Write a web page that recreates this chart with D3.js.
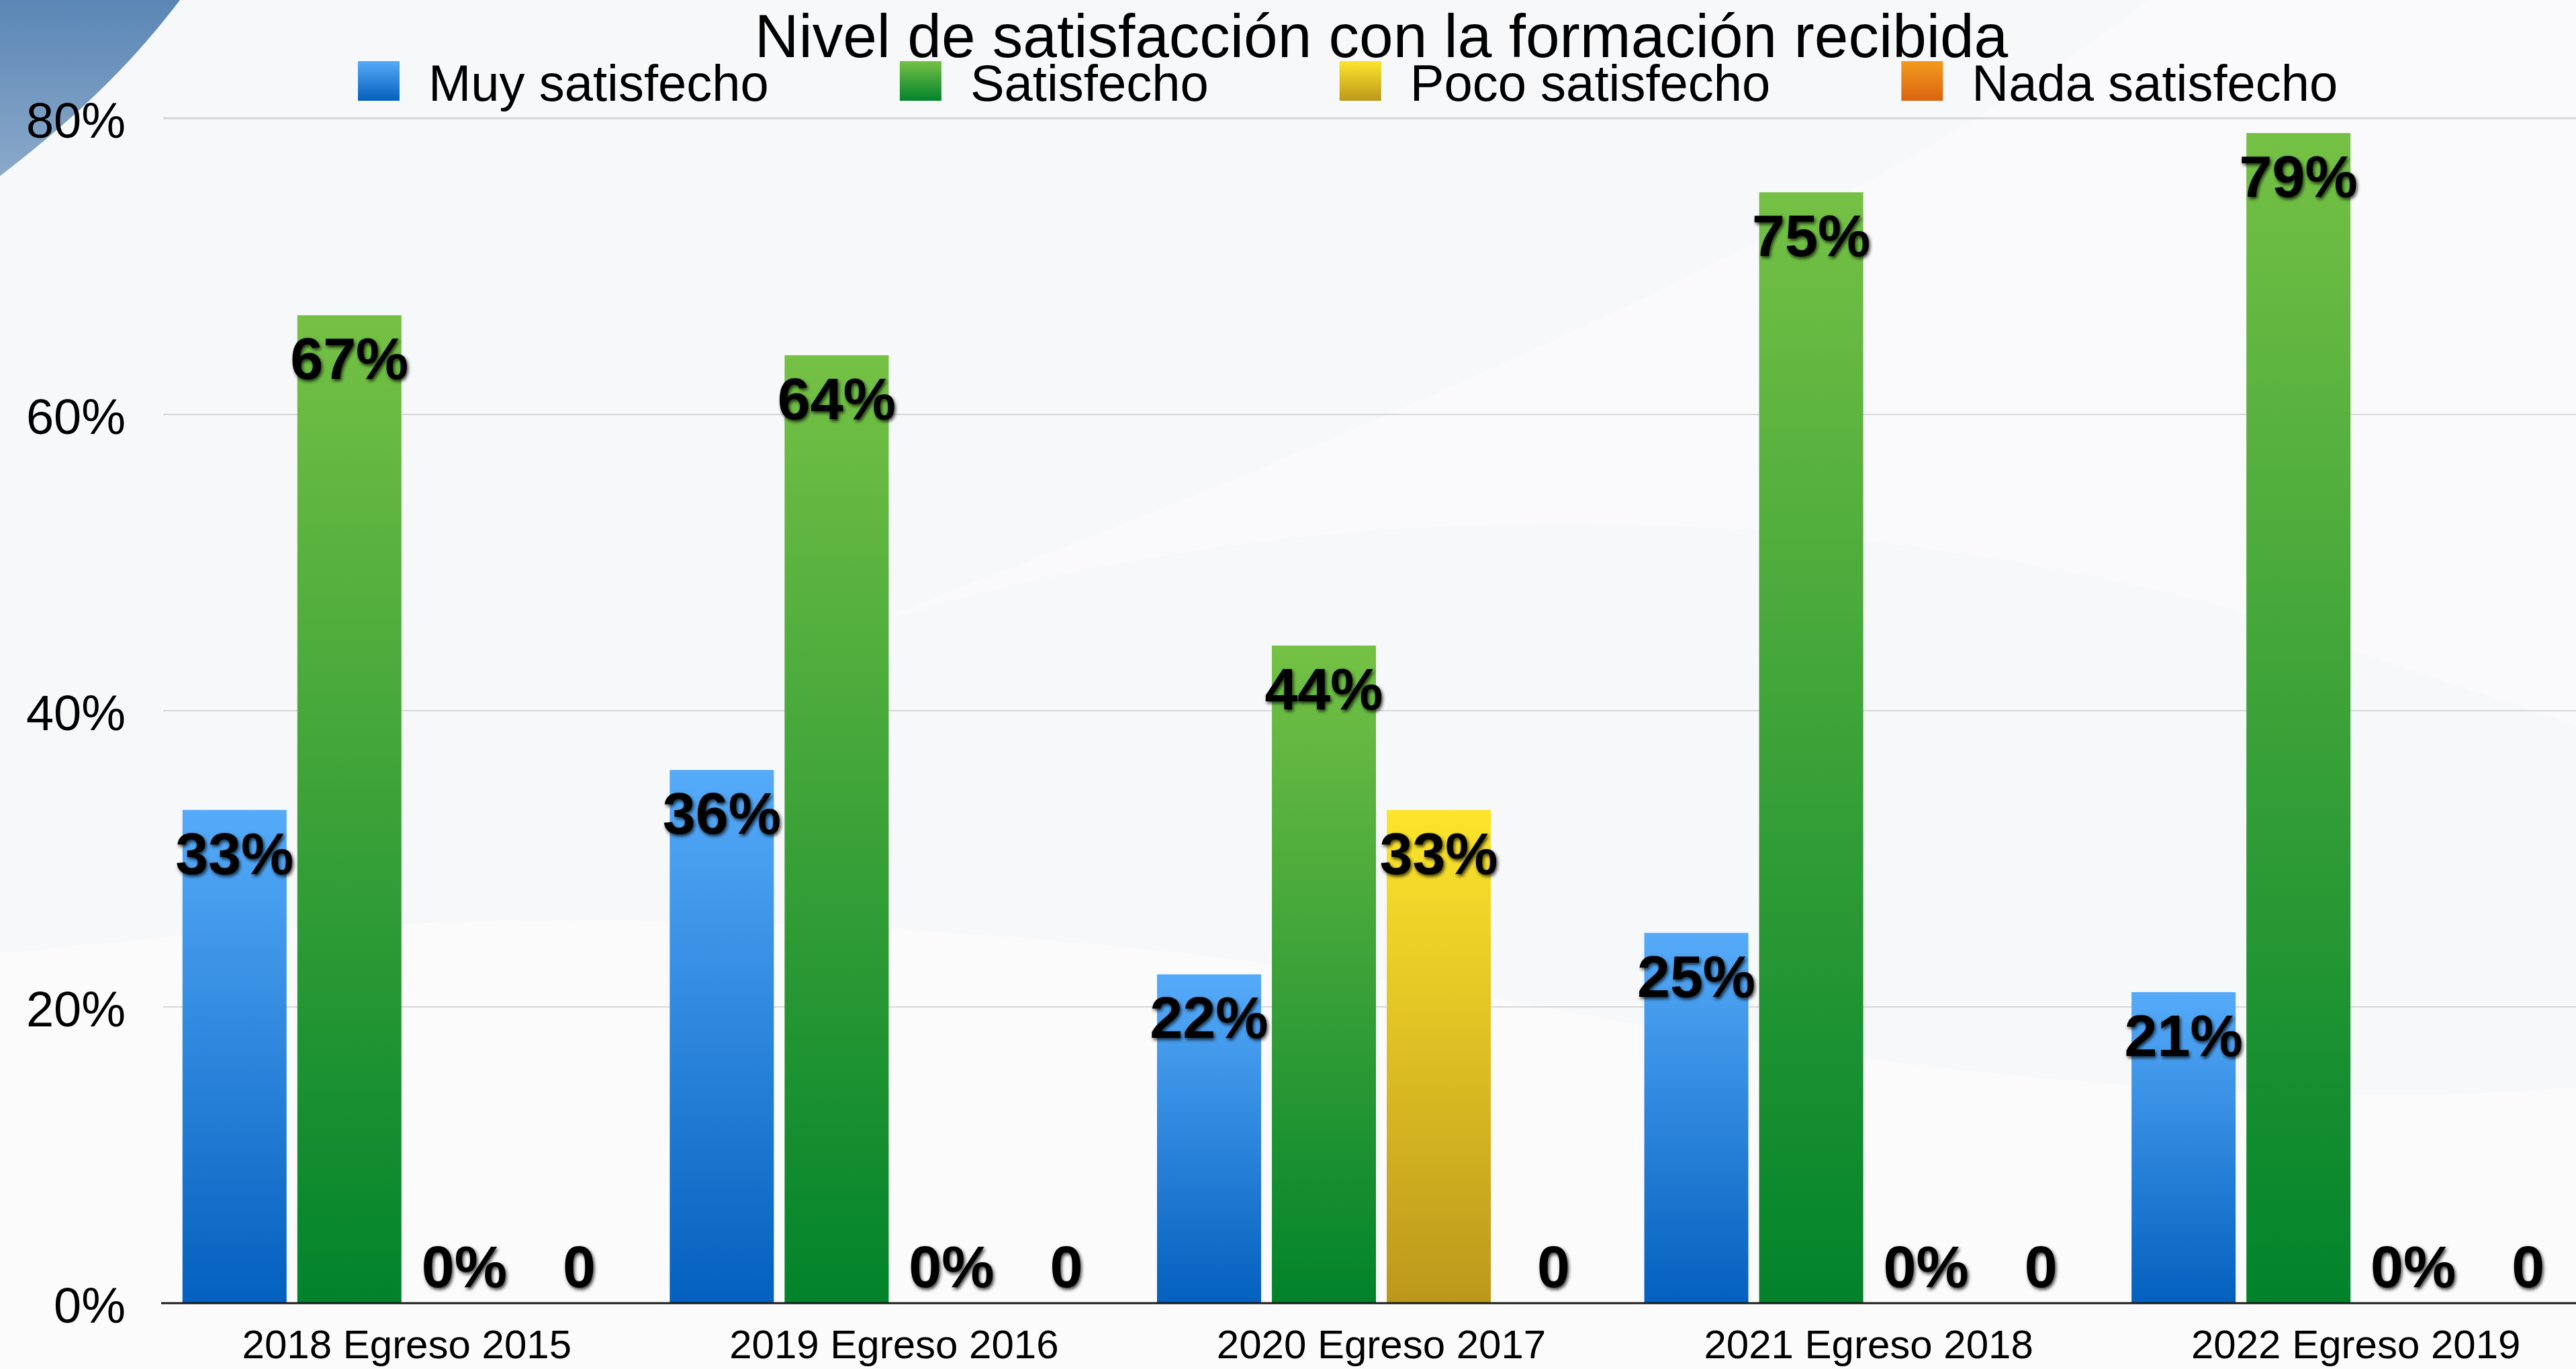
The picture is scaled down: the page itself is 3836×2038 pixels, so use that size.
<!DOCTYPE html>
<html>
<head>
<meta charset="utf-8">
<script src="https://cdn.jsdelivr.net/npm/d3@7"></script>
<style>
  body { margin: 0; background: #f7f8fa; }
  svg { display: block; font-family: "Liberation Sans", Arial, sans-serif; }
</style>
</head>
<body>
<div id="chart"></div>
<script>
// data
var categories = ["2018 Egreso 2015", "2019 Egreso 2016", "2020 Egreso 2017", "2021 Egreso 2018", "2022 Egreso 2019"];
var seriesNames = ["Muy satisfecho", "Satisfecho", "Poco satisfecho", "Nada satisfecho"];
var muySatisfecho = [33.3, 36, 22.2, 25, 21];
var satisfecho = [66.7, 64, 44.4, 75, 79];
var pocoSatisfecho = [0, 0, 33.3, 0, 0];
var nadaSatisfecho = [0, 0, 0, 0, 0];
var yTicks = [0, 20, 40, 60, 80];

var seriesValues = [muySatisfecho, satisfecho, pocoSatisfecho, nadaSatisfecho];
// gradient stops (top, bottom) per series
var seriesColors = [
  ["#56abf9", "#0460be"],
  ["#75c145", "#01832b"],
  ["#fce52b", "#bc981b"],
  ["#f39b1e", "#db6410"]
];

var W = 3836, H = 2038;
var margin = {top: 176, left: 243, bottom: 98};
var plotRight = 3871; // last group runs past the picture edge

var svg = d3.select("#chart").append("svg")
  .attr("width", W)
  .attr("height", H);

var defs = svg.append("defs");
seriesColors.forEach(function(c, i) {
  var g = defs.append("linearGradient")
    .attr("id", "grad" + i)
    .attr("x1", 0).attr("y1", 0).attr("x2", 0).attr("y2", 1);
  g.append("stop").attr("offset", "0%").attr("stop-color", c[0]);
  g.append("stop").attr("offset", "100%").attr("stop-color", c[1]);
});
var cg = defs.append("linearGradient").attr("id", "cornerGrad")
  .attr("x1", 0).attr("y1", 0).attr("x2", 0).attr("y2", 1);
cg.append("stop").attr("offset", "0%").attr("stop-color", "#5a86b5");
cg.append("stop").attr("offset", "100%").attr("stop-color", "#8ba9c9");

var shadow = defs.append("filter").attr("id", "shadow")
  .attr("x", "-20%").attr("y", "-20%").attr("width", "140%").attr("height", "140%");
shadow.append("feDropShadow")
  .attr("dx", 2).attr("dy", 3).attr("stdDeviation", 2.5)
  .attr("flood-color", "#000").attr("flood-opacity", 0.75);

// background, faint swooshes
svg.append("rect").attr("width", W).attr("height", H).attr("fill", "#f7f8fa");
svg.append("path")
  .attr("d", "M0,1420 C700,1340 1500,1350 2300,1500 C2900,1610 3400,1650 3836,1620 L3836,2038 L0,2038 Z")
  .attr("fill", "#fbfbfc");
svg.append("path")
  .attr("d", "M1100,1000 C1700,760 2500,700 3300,900 L3836,1080 L3836,0 L3200,0 C2700,380 1900,700 1100,1000 Z")
  .attr("fill", "#ffffff").attr("opacity", 0.35);
svg.append("path")
  .attr("d", "M0,0 L268,0 C200,90 120,170 0,262 Z")
  .attr("fill", "url(#cornerGrad)");

// scales
var x0 = d3.scaleBand()
  .domain(categories)
  .range([margin.left, plotRight])
  .padding(0);

var x1 = d3.scaleBand()
  .domain(seriesNames)
  .range([0, x0.bandwidth()])
  .paddingInner(0.0936)
  .paddingOuter(0.168);

var y = d3.scaleLinear()
  .domain([0, 80])
  .range([H - 98, margin.top]);

// grid lines
svg.append("g")
  .selectAll("line")
  .data(yTicks.filter(function(d) { return d > 0; }))
  .enter().append("line")
    .attr("x1", margin.left)
    .attr("x2", W)
    .attr("y1", function(d) { return y(d); })
    .attr("y2", function(d) { return y(d); })
    .attr("stroke", function(d) { return d === 80 ? "#d6d6d6" : "#cdcdcd"; })
    .attr("stroke-width", function(d) { return d === 80 ? 3 : 1.5; });

// y axis labels
var yAxis = svg.append("g")
  .attr("transform", "translate(" + margin.left + ",0)")
  .call(d3.axisLeft(y).tickValues(yTicks).tickSize(0).tickPadding(56)
    .tickFormat(function(d) { return d + "%"; }));
yAxis.select(".domain").remove();
yAxis.selectAll("text")
  .attr("font-size", 74)
  .attr("font-family", "Liberation Sans, Arial, sans-serif")
  .attr("fill", "#000")
  .attr("dy", "0.38em");

// bars
var groups = svg.append("g")
  .selectAll("g")
  .data(categories)
  .enter().append("g")
    .attr("transform", function(d) { return "translate(" + x0(d) + ",0)"; });

groups.selectAll("rect")
  .data(function(d, ci) {
    return seriesNames.map(function(s, si) { return {series: s, si: si, value: seriesValues[si][ci]}; });
  })
  .enter().append("rect")
    .attr("x", function(d) { return x1(d.series); })
    .attr("width", x1.bandwidth())
    .attr("y", function(d) { return y(d.value); })
    .attr("height", function(d) { return y(0) - y(d.value); })
    .attr("fill", function(d) { return "url(#grad" + d.si + ")"; });

// value labels
groups.selectAll("text.val")
  .data(function(d, ci) {
    return seriesNames.map(function(s, si) { return {series: s, si: si, value: seriesValues[si][ci]}; });
  })
  .enter().append("text")
    .attr("class", "val")
    .attr("x", function(d) { return x1(d.series) + x1.bandwidth() / 2; })
    .attr("y", function(d) { return Math.min(y(d.value) + 95, y(0) - 24); })
    .attr("text-anchor", "middle")
    .attr("font-size", 88)
    .attr("font-weight", "bold")
    .attr("fill", "#000")
    .attr("filter", "url(#shadow)")
    .text(function(d) { return d.si === 3 ? Math.round(d.value) : Math.round(d.value) + "%"; });

// x axis
var xAxis = svg.append("g")
  .attr("transform", "translate(0," + y(0) + ")")
  .call(d3.axisBottom(x0).tickSize(0).tickPadding(82));
xAxis.select(".domain")
  .attr("d", "M" + (margin.left - 3) + ",0H" + W)
  .attr("stroke", "#1a1a1a")
  .attr("stroke-width", 3);
xAxis.selectAll("text")
  .attr("font-size", 60)
  .attr("font-family", "Liberation Sans, Arial, sans-serif")
  .attr("fill", "#000")
  .attr("dy", 0);

// title
svg.append("text")
  .attr("x", 2057)
  .attr("y", 85)
  .attr("text-anchor", "middle")
  .attr("font-size", 91)
  .attr("fill", "#000")
  .text("Nivel de satisfacción con la formación recibida");

// legend
var legend = svg.append("g");
var lx = 533;
seriesNames.forEach(function(s, i) {
  legend.append("rect")
    .attr("x", lx).attr("y", 91)
    .attr("width", 62).attr("height", 59)
    .attr("fill", "url(#grad" + i + ")");
  var t = legend.append("text")
    .attr("x", lx + 105).attr("y", 150)
    .attr("font-size", 76)
    .attr("fill", "#000")
    .text(s);
  lx += 105 + t.node().getComputedTextLength() + 195;
});
</script>
</body>
</html>
